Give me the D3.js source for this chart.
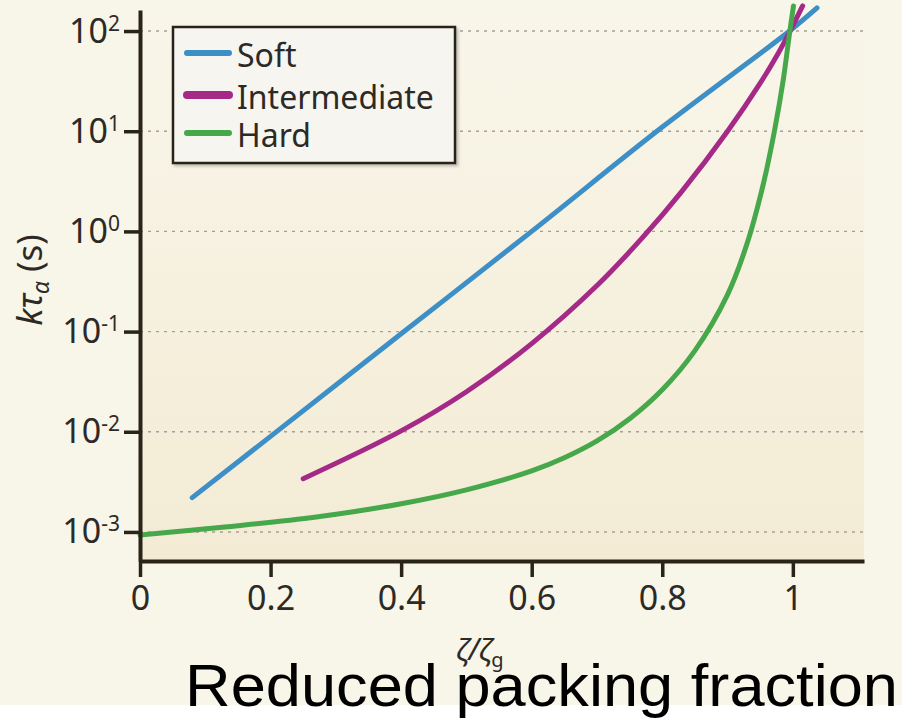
<!DOCTYPE html>
<html>
<head>
<meta charset="utf-8">
<script src="https://cdn.jsdelivr.net/npm/d3@7"></script>
<style>
  body { margin: 0; background: #fff; }
  svg { display: block; }
</style>
</head>
<body>
<svg id="chart"></svg>
<script>
const width = 902, height = 720;

// values (x = zeta/zeta_g, y = k tau_alpha in s)
const softX = [0.08, 0.2, 0.4, 0.6, 0.8, 0.995, 1.037];
const softY = [0.0022, 0.009, 0.095, 1.0, 11, 100, 170];

const interX = [0.25, 0.4, 0.5, 0.6, 0.7, 0.77, 0.83, 0.9, 0.95, 0.977, 0.995, 1.015];
const interY = [0.0034, 0.0102, 0.0251, 0.0759, 0.288, 0.871, 2.51, 10, 30.2, 58.9, 97.7, 178];

const hardX = [0, 0.13, 0.27, 0.4, 0.5, 0.6, 0.65, 0.7, 0.75, 0.8, 0.85, 0.9, 0.93, 0.955, 0.972, 0.985, 0.995, 1.001];
const hardY = [0.00093, 0.00112, 0.00141, 0.00191, 0.00263, 0.00407, 0.0055, 0.0081, 0.0135, 0.0263, 0.0646, 0.234, 0.76, 3.02, 10.2, 31.6, 95.5, 178];

const seriesNames = ['Soft', 'Intermediate', 'Hard'];
const seriesColors = ['#3d8fc6', '#a52a88', '#46a84b'];

const xTicks = [0, 0.2, 0.4, 0.6, 0.8, 1];
const yExponents = [-3, -2, -1, 0, 1, 2];

const series = [
	{ name: seriesNames[0], color: seriesColors[0], pts: softX.map((x, i) => [x, softY[i]]) },
	{ name: seriesNames[1], color: seriesColors[1], pts: interX.map((x, i) => [x, interY[i]]) },
	{ name: seriesNames[2], color: seriesColors[2], pts: hardX.map((x, i) => [x, hardY[i]]) }
];

const xScale = d3.scaleLinear()
	.domain([0, 1.109])
	.range([140, 864]);

const yScale = d3.scaleLog()
	.domain([Math.pow(10, -3.29), Math.pow(10, 2.21)])
	.range([561, 10]);

const svg = d3.select('#chart')
	.attr('width', width)
	.attr('height', height);

const defs = svg.append('defs');
const grad = defs.append('linearGradient')
	.attr('id', 'plotbg')
	.attr('x1', 0).attr('y1', 0).attr('x2', 0).attr('y2', 1);
grad.append('stop').attr('offset', '0%').attr('stop-color', '#f9f6ea');
grad.append('stop').attr('offset', '100%').attr('stop-color', '#f3ebd4');

const shadow = defs.append('filter').attr('id', 'shadow')
	.attr('x', -0.1).attr('y', -0.1).attr('width', 1.2).attr('height', 1.2);
shadow.append('feDropShadow')
	.attr('dx', 2).attr('dy', 2).attr('stdDeviation', 1.5)
	.attr('flood-color', '#000').attr('flood-opacity', 0.25);

// page background (cream above, white strip at the very bottom)
svg.append('rect').attr('width', width).attr('height', height).attr('fill', '#fff');
svg.append('rect').attr('width', width).attr('height', 705).attr('fill', '#f8f5e9');

// plot area
svg.append('rect')
	.attr('x', xScale(0))
	.attr('y', yScale.range()[1])
	.attr('width', xScale.range()[1] - xScale(0))
	.attr('height', yScale.range()[0] - yScale.range()[1])
	.attr('fill', 'url(#plotbg)');

// dotted decade gridlines
svg.append('g')
	.selectAll('line')
	.data(yExponents)
	.enter()
	.append('line')
	.attr('x1', xScale(0))
	.attr('x2', xScale.range()[1])
	.attr('y1', d => yScale(Math.pow(10, d)))
	.attr('y2', d => yScale(Math.pow(10, d)))
	.style('stroke', '#a89f92')
	.style('stroke-width', 1.4)
	.style('stroke-dasharray', '3,5');

// curves
const line = d3.line()
	.x(d => xScale(d[0]))
	.y(d => yScale(d[1]))
	.curve(d3.curveCatmullRom.alpha(0.5));

svg.append('g')
	.selectAll('path')
	.data(series)
	.enter()
	.append('path')
	.attr('d', d => line(d.pts))
	.style('fill', 'none')
	.style('stroke', d => d.color)
	.style('stroke-width', 5)
	.style('stroke-linecap', 'round');

// axes
const axisColor = '#2a2418';
const tickFont = '"Noto Sans", "Open Sans", sans-serif';

const yAxis = svg.append('g')
	.attr('transform', `translate(${xScale(0)},0)`)
	.call(d3.axisLeft(yScale)
		.tickValues(yExponents.map(e => Math.pow(10, e)))
		.tickSize(16)
		.tickSizeOuter(0)
		.tickFormat(''));

yAxis.select('.domain').style('stroke', axisColor).style('stroke-width', 4);
yAxis.selectAll('.tick line').style('stroke', axisColor).style('stroke-width', 3.5);
yAxis.selectAll('.tick text').remove();
yAxis.selectAll('.tick').each(function(d) {
	const e = Math.round(Math.log10(d));
	const t = d3.select(this).append('text')
		.attr('x', -20)
		.attr('y', 11)
		.attr('text-anchor', 'end')
		.style('font-family', tickFont)
		.style('font-size', '34px')
		.style('fill', '#2d2a26');
	t.append('tspan').text('10');
	t.append('tspan')
		.attr('dy', -12)
		.style('font-size', '21px')
		.text(e < 0 ? '-' + (-e) : String(e));
});

const xAxis = svg.append('g')
	.attr('transform', `translate(0,${yScale.range()[0]})`)
	.call(d3.axisBottom(xScale)
		.tickValues(xTicks)
		.tickSize(16)
		.tickSizeOuter(0)
		.tickFormat(d => String(d)));

xAxis.select('.domain').style('stroke', axisColor).style('stroke-width', 4);
xAxis.selectAll('.tick line').style('stroke', axisColor).style('stroke-width', 3.5);
xAxis.selectAll('.tick text')
	.attr('y', 49)
	.attr('dy', 0)
	.style('font-family', tickFont)
	.style('font-size', '34px')
	.style('fill', '#2d2a26');

// axis titles
const yTitle = svg.append('text')
	.attr('transform', 'translate(42,280) rotate(-90)')
	.attr('text-anchor', 'middle')
	.style('font-family', tickFont)
	.style('font-size', '35px')
	.style('fill', '#2d2a26');
yTitle.append('tspan').style('font-style', 'italic').text('kτ');
yTitle.append('tspan').attr('dy', 7).style('font-style', 'italic').style('font-size', '23px').text('α');
yTitle.append('tspan').attr('dy', -7).attr('dx', 9).text('(s)');

const xTitle = svg.append('text')
	.attr('x', 480)
	.attr('y', 660)
	.attr('text-anchor', 'middle')
	.style('font-family', tickFont)
	.style('font-size', '30px')
	.style('fill', '#2d2a26');
xTitle.append('tspan').style('font-style', 'italic').text('ζ/ζ');
xTitle.append('tspan').attr('dy', 7).style('font-size', '20px').text('g');

// legend
const legend = svg.append('g');
legend.append('rect')
	.attr('x', 173).attr('y', 27)
	.attr('width', 282).attr('height', 136)
	.attr('fill', '#f6f5f0')
	.attr('stroke', axisColor)
	.attr('stroke-width', 2.5)
	.attr('filter', 'url(#shadow)');

const entries = legend.selectAll('.entry')
	.data(series)
	.enter()
	.append('g')
	.attr('class', 'entry')
	.attr('transform', (d, i) => `translate(0,${[53, 95, 133][i]})`);

entries.append('line')
	.attr('x1', 187).attr('x2', 229)
	.attr('y1', 0).attr('y2', 0)
	.style('stroke', d => d.color)
	.style('stroke-width', (d, i) => i === 1 ? 8 : 6)
	.style('stroke-linecap', 'round');

entries.append('text')
	.attr('x', 237)
	.attr('y', 14)
	.style('font-family', tickFont)
	.style('font-size', '32px')
	.style('fill', '#2d2a26')
	.text(d => d.name);

// caption under the chart
svg.append('text')
	.attr('x', 185)
	.attr('y', 706)
	.attr('textLength', 713)
	.attr('lengthAdjust', 'spacingAndGlyphs')
	.style('font-family', '"Liberation Sans", Arial, sans-serif')
	.style('font-size', '60px')
	.style('fill', '#000')
	.text('Reduced packing fraction');
</script>
</body>
</html>
